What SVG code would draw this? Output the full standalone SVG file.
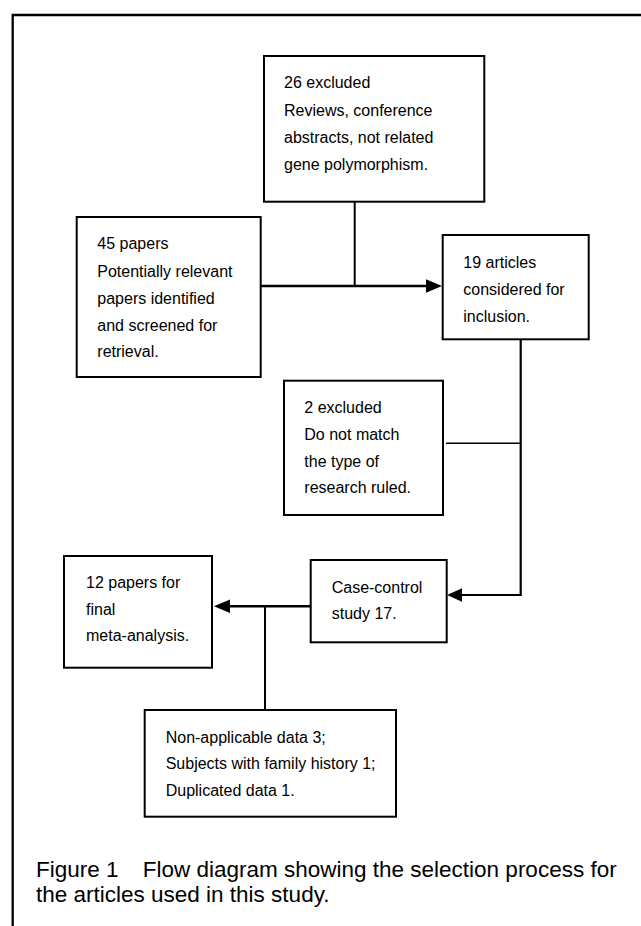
<svg xmlns="http://www.w3.org/2000/svg" width="641" height="926" viewBox="0 0 641 926">
<style>
  .box { fill: #fff; stroke: #000; stroke-width: 2; }
  .t { font-family: "Liberation Sans", Arial, sans-serif; font-size: 16px; fill: #000; }
  .cap { font-family: "Liberation Sans", Arial, sans-serif; font-size: 22.5px; fill: #000; }
  .ln { fill: none; stroke: #000; }
  .ah { fill: #000; stroke: none; }
</style>
<rect width="641" height="926" fill="#fff"/>
<g id="frame">
  <path class="ln" stroke-width="2.3" d="M12.7,926 V15 H641"/>
</g>
<g id="connectors">
  <path class="ln" stroke-width="2" d="M354.7,201.7 V286"/>
  <path class="ln" stroke-width="2.6" d="M260.7,286 H427"/>
  <polygon class="ah" points="426,279.3 442,286 426,292.7"/>
  <path class="ln" stroke-width="2.2" d="M520.7,339.3 V595 H461"/>
  <polygon class="ah" points="462,588.3 447,595 462,601.7"/>
  <path class="ln" stroke-width="1.5" d="M446,443.3 H520.7"/>
  <path class="ln" stroke-width="2.6" d="M310.7,606.3 H229"/>
  <polygon class="ah" points="230,599.6 214,606.3 230,613"/>
  <path class="ln" stroke-width="2" d="M265,606.3 V710"/>
</g>
<g id="n26">
  <rect class="box" x="264" y="56" width="220.3" height="145.7"/>
  <text class="t" x="284" y="88.3">26 excluded</text>
  <text class="t" x="284" y="115.6">Reviews, conference</text>
  <text class="t" x="284" y="143">abstracts, not related</text>
  <text class="t" x="284" y="170.3">gene polymorphism.</text>
</g>
<g id="n45">
  <rect class="box" x="76.7" y="217" width="184" height="160"/>
  <text class="t" x="97.3" y="249.3">45 papers</text>
  <text class="t" x="97.3" y="276.6">Potentially relevant</text>
  <text class="t" x="97.3" y="303.9">papers identified</text>
  <text class="t" x="97.3" y="330.5">and screened for</text>
  <text class="t" x="97.3" y="357">retrieval.</text>
</g>
<g id="n19">
  <rect class="box" x="442.7" y="235" width="146" height="104.3"/>
  <text class="t" x="463.3" y="268.3">19 articles</text>
  <text class="t" x="463.3" y="295">considered for</text>
  <text class="t" x="463.3" y="321.5">inclusion.</text>
</g>
<g id="n2">
  <rect class="box" x="284" y="380.7" width="159" height="134.3"/>
  <text class="t" x="304.3" y="413.3">2 excluded</text>
  <text class="t" x="304.3" y="440">Do not match</text>
  <text class="t" x="304.3" y="466.7">the type of</text>
  <text class="t" x="304.3" y="493.3">research ruled.</text>
</g>
<g id="ncase">
  <rect class="box" x="310.7" y="560" width="136" height="82.3"/>
  <text class="t" x="331.7" y="592.7">Case-control</text>
  <text class="t" x="331.7" y="619">study 17.</text>
</g>
<g id="n12">
  <rect class="box" x="64" y="556" width="148" height="111.7"/>
  <text class="t" x="86" y="588">12 papers for</text>
  <text class="t" x="86" y="614.7">final</text>
  <text class="t" x="86" y="641">meta-analysis.</text>
</g>
<g id="nexcl">
  <rect class="box" x="144.7" y="710" width="251.3" height="106.7"/>
  <text class="t" x="165.7" y="742.7">Non-applicable data 3;</text>
  <text class="t" x="165.7" y="769.2">Subjects with family history 1;</text>
  <text class="t" x="165.7" y="795.8">Duplicated data 1.</text>
</g>
<g id="caption">
  <text class="cap" x="36" y="876.7">Figure 1</text>
  <text class="cap" x="142.7" y="876.7">Flow diagram showing the selection process for</text>
  <text class="cap" x="36" y="901.7">the articles used in this study.</text>
</g>
</svg>
